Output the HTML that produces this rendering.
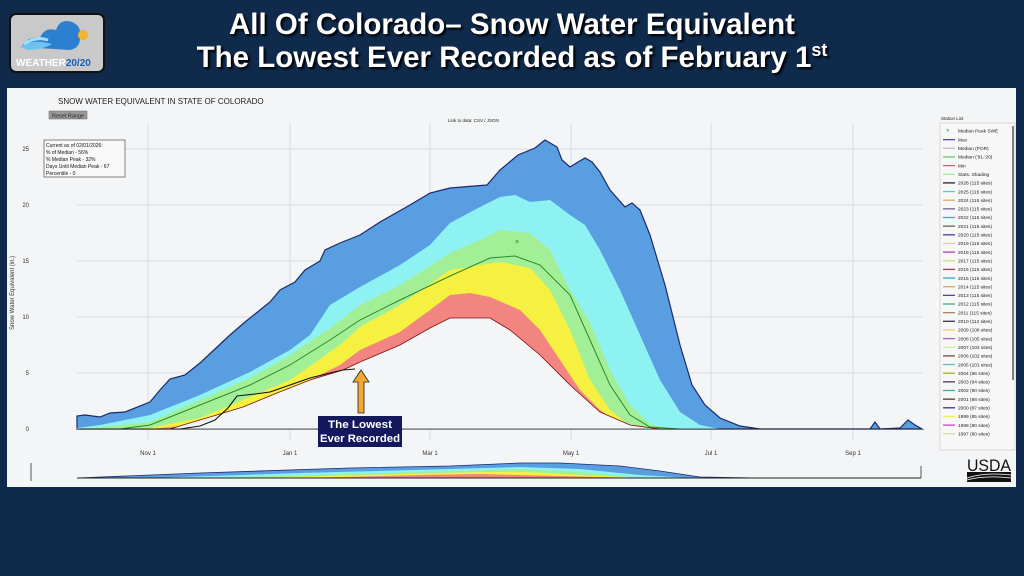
<!DOCTYPE html>
<html><head><meta charset="utf-8"><style>
html,body{margin:0;padding:0;width:1024px;height:576px;overflow:hidden;background:#0f2a4b;font-family:"Liberation Sans",sans-serif}
.title{position:absolute;left:0;width:1024px;text-align:center;color:#fff;font-weight:bold;font-size:29.5px;text-shadow:2px 2px 2px #000;white-space:nowrap}
</style></head><body>
<div class="title" style="top:8px">All Of Colorado– Snow Water Equivalent</div>
<div class="title" style="top:40px">The Lowest Ever Recorded as of February 1<sup style="font-size:18px;vertical-align:11px">st</sup></div>
<div style="position:absolute;left:9px;top:13px;width:92px;height:56px;background:#c9c9c9;border:2px solid #111;border-radius:7px"></div>
<svg width="1024" height="576" style="position:absolute;left:0;top:0">
<!-- logo -->
<path d="M22,47 Q26,36 40,38 Q44,27 56,30 Q60,18 72,22 Q82,26 80,38 Q80,48 70,50 Z" fill="#2d7fd0"/>
<path d="M20,47 Q32,38 52,44 Q42,50 28,50 Z" fill="#6ec3ee"/>
<path d="M24,44 Q36,36 48,40" stroke="#9fe0f8" stroke-width="3" fill="none"/>
<circle cx="83" cy="35" r="5" fill="#f2b530"/>
<text x="16" y="66" font-size="10" font-weight="bold" fill="#fff" font-family="Liberation Sans">WEATHER<tspan fill="#1a5fb4">20/20</tspan></text>
<!-- panel -->
<rect x="7" y="88" width="1009" height="399" fill="#f4f5f6"/>
<text x="58" y="104" font-size="8" fill="#222">SNOW WATER EQUIVALENT IN STATE OF COLORADO</text>
<rect x="49" y="111" width="38" height="8" fill="#999" stroke="#666" stroke-width="0.5"/>
<text x="52" y="117.5" font-size="5.5" fill="#222">Reset Range</text>
<text x="448" y="122" font-size="4.5" fill="#222">Link to data: CSV / JSON</text>
<g stroke="#d8dde3" stroke-width="1">
<line x1="77" y1="429" x2="922" y2="429"/><line x1="77" y1="373" x2="922" y2="373"/><line x1="77" y1="317" x2="922" y2="317"/><line x1="77" y1="261" x2="922" y2="261"/><line x1="77" y1="205" x2="922" y2="205"/><line x1="77" y1="149" x2="922" y2="149"/>
<line x1="148" y1="123" x2="148" y2="440"/><line x1="290" y1="123" x2="290" y2="440"/><line x1="430" y1="123" x2="430" y2="440"/><line x1="571" y1="123" x2="571" y2="440"/><line x1="711" y1="123" x2="711" y2="440"/><line x1="853" y1="123" x2="853" y2="440"/>
</g>
<g font-size="6" fill="#333" text-anchor="end">
<text x="29" y="431">0</text><text x="29" y="375">5</text><text x="29" y="319">10</text><text x="29" y="263">15</text><text x="29" y="207">20</text><text x="29" y="151">25</text></g>
<text transform="translate(14,330) rotate(-90)" font-size="6" fill="#333">Snow Water Equivalent (in.)</text>
<g font-size="6" fill="#333" text-anchor="middle">
<text x="148" y="455">Nov 1</text><text x="290" y="455">Jan 1</text><text x="430" y="455">Mar 1</text><text x="571" y="455">May 1</text><text x="711" y="455">Jul 1</text><text x="853" y="455">Sep 1</text></g>
<!-- bands -->
<polygon fill="#5a9ee2" stroke="#1a2a6a" stroke-width="1.2" points="77,429 77,416 85,415 100,417 110,413 125,412 150,402 160,390 170,379 185,375 200,363 215,349 230,335 245,322 260,310 270,302 280,290 295,282 305,270 320,261 325,250 340,243 360,235 380,222 410,205 430,193 450,188 487,185 500,170 518,155 535,148 545,140 557,147 562,160 570,167 578,162 585,158 592,162 600,172 610,190 625,207 632,203 640,210 650,235 665,285 680,345 692,385 705,405 720,418 740,426 760,429 870,429 875,422 880,429 900,428 908,420 915,425 922,429"/>
<polygon fill="#8ef2f2" points="77,429 77,428 100,425 150,415 200,395 250,372 290,350 310,335 330,305 360,287 400,265 430,245 450,223 480,207 500,197 515,195 530,202 550,200 570,215 585,225 600,250 620,290 640,335 660,380 680,412 700,425 720,429"/>
<polygon fill="#a3ef98" points="80,429 150,422 200,400 250,378 290,355 330,328 360,305 400,285 450,253 480,240 500,230 530,233 550,250 570,290 590,322 610,370 630,405 650,424 670,429"/>
<polygon fill="#f6f040" points="110,429 150,428 200,418 250,397 290,380 340,345 360,327 400,305 450,270 480,265 500,262 530,268 550,290 570,330 590,380 610,410 630,426 645,429"/>
<polygon fill="#f28582" points="150,429 200,424 250,405 290,390 340,365 360,350 400,332 430,310 450,295 470,293 490,297 520,310 540,330 560,360 580,390 600,410 620,424 640,429"/>
<polygon fill="#f4f5f6" points="170,429.5 183,425 210,417 243,407 277,393 310,380 343,370 360,362 400,345 430,328 450,318 490,318 510,330 540,355 570,385 600,412 630,425 660,429.5"/>
<polyline fill="none" stroke="#7a1010" stroke-width="0.8" points="170,429 183,425 210,417 243,407 277,393 310,380 343,370 360,362 400,345 430,328 450,318 490,318 510,330 540,355 570,385 600,412 630,425 660,429"/>
<polyline fill="none" stroke="#2a8a2a" stroke-width="1" points="80,429 120,429 150,425 200,405 250,385 290,365 330,340 360,320 400,300 450,276 490,258 515,256 540,265 570,295 590,340 610,385 630,415 650,427 680,429"/>
<polyline fill="none" stroke="#111" stroke-width="1.1" points="80,429 180,429 200,426 215,420 228,408 237,396 255,394 270,392 290,385 310,378 330,373 343,370 355,369"/>
<line x1="77" y1="429" x2="922" y2="429" stroke="#222" stroke-width="0.8"/>
<text x="517" y="244" font-size="7" fill="#1a7a1a" text-anchor="middle">×</text>
<!-- info box -->
<rect x="44" y="140" width="81" height="37" fill="#f8f8f8" stroke="#555" stroke-width="0.7"/>
<g font-size="5" fill="#111"><text x="46" y="147">Current as of 02/01/2026:</text><text x="46" y="154">% of Median - 56%</text><text x="46" y="161">% Median Peak - 32%</text><text x="46" y="168">Days Until Median Peak - 67</text><text x="46" y="175">Percentile - 0</text></g>
<!-- arrow -->
<polygon points="361,370 369,382 364,382 364,413 358,413 358,382 353,382" fill="#f3a630" stroke="#222" stroke-width="0.8"/>
<rect x="318" y="416" width="84" height="31" fill="#14195e"/>
<text x="360" y="428" font-size="11" font-weight="bold" fill="#fff" text-anchor="middle" textLength="64" lengthAdjust="spacingAndGlyphs">The Lowest</text>
<text x="360" y="442" font-size="11" font-weight="bold" fill="#fff" text-anchor="middle" textLength="80" lengthAdjust="spacingAndGlyphs">Ever Recorded</text>
<!-- overview -->
<polygon fill="#5a9ee2" stroke="#1a2a6a" stroke-width="0.8" points="77,478 200,473 350,468 450,466 520,463 560,463 620,466 660,471 700,477 760,478"/>
<polygon fill="#8ef2f2" points="150,478 300,473 450,469 520,467 580,469 640,475 690,478"/>
<polygon fill="#a3ef98" points="200,478 350,474 450,471 520,469 580,472 630,477 670,478"/>
<polygon fill="#f6f040" points="250,478 400,474 480,472 530,472 600,476 650,478"/>
<polygon fill="#f28582" points="300,478 420,475 480,474 560,476 640,478"/>
<line x1="77" y1="478" x2="921" y2="478" stroke="#222" stroke-width="1"/>
<line x1="31" y1="463" x2="31" y2="481" stroke="#555"/><line x1="921" y1="466" x2="921" y2="478" stroke="#555"/>
<!-- legend -->
<text x="941" y="120" font-size="4.5" fill="#222">Station List</text>
<rect x="940" y="123" width="75" height="327" fill="#f7f7f7" stroke="#bbb" stroke-width="0.5"/>
<line x1="1013" y1="126" x2="1013" y2="380" stroke="#333" stroke-width="1.2"/>
<g font-size="4.8" fill="#222" id="lg"></g>
<!-- USDA -->
<text x="989" y="471" font-size="17" fill="#111" text-anchor="middle" font-family="Liberation Sans Narrow, Liberation Sans" textLength="44" lengthAdjust="spacingAndGlyphs">USDA</text>
<rect x="967" y="472" width="44" height="10" fill="#111"/>
<path d="M967,478 Q985,472 1011,475 M967,480 Q985,475 1011,478" stroke="#fff" stroke-width="0.8" fill="none"/>
</svg>
<script>
var items=[["#2a8a2a","Median Peak SWE",1],["#4a4aa0","Max"],["#bbb","Median (POR)"],["#6c6","Median ('91-'20)"],["#c66","Min"],["#9e9","Stats. Shading"],["#223","2026 (115 sites)"],["#5cc","2025 (115 sites)"],["#da6","2024 (115 sites)"],["#669","2023 (115 sites)"],["#2bb","2022 (115 sites)"],["#665","2021 (115 sites)"],["#449","2020 (115 sites)"],["#dd6","2019 (115 sites)"],["#a4a","2018 (115 sites)"],["#cd8","2017 (115 sites)"],["#944","2016 (115 sites)"],["#3ac","2015 (115 sites)"],["#ca6","2014 (115 sites)"],["#548","2013 (115 sites)"],["#4a8","2012 (115 sites)"],["#a86","2011 (115 sites)"],["#335","2010 (112 sites)"],["#ec7","2009 (108 sites)"],["#a6a","2008 (105 sites)"],["#ce9","2007 (102 sites)"],["#844","2006 (102 sites)"],["#6bc","2005 (101 sites)"],["#aa3","2004 (96 sites)"],["#536","2003 (94 sites)"],["#4a9","2002 (90 sites)"],["#443","2001 (88 sites)"],["#33a","2000 (87 sites)"],["#ee5","1999 (85 sites)"],["#c4c","1998 (80 sites)"],["#dd9","1997 (80 sites)"]];
var g=document.getElementById("lg"),s="";
items.forEach(function(it,i){var y=131+i*8.65;
if(it[2])s+='<text x="946" y="'+(y+1.5)+'" font-size="6" fill="'+it[0]+'">×</text>';
else s+='<line x1="943" y1="'+y+'" x2="955" y2="'+y+'" stroke="'+it[0]+'" stroke-width="1.3"/>';
s+='<text x="958" y="'+(y+1.7)+'">'+it[1]+'</text>';});
g.innerHTML=s;
</script>
</body></html>
